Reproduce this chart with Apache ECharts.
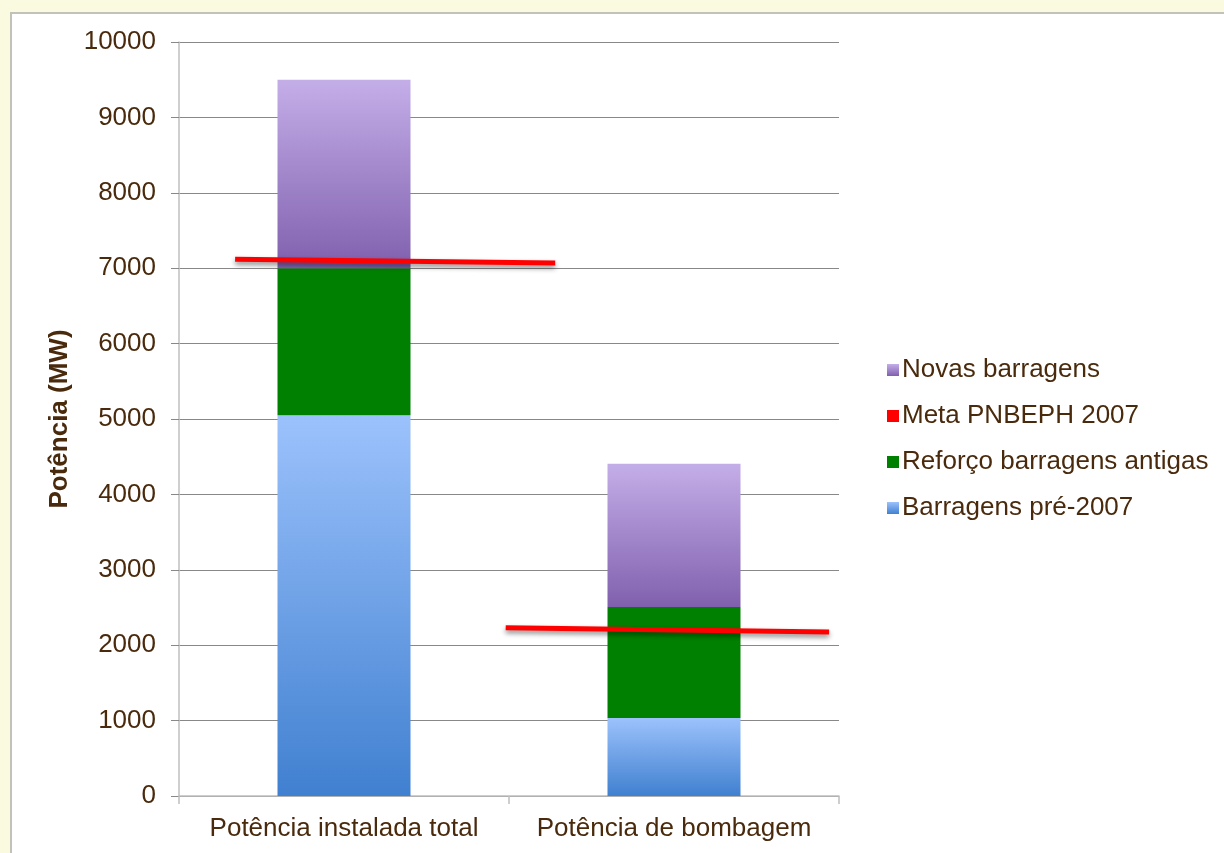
<!DOCTYPE html>
<html>
<head>
<meta charset="utf-8">
<script src="https://cdn.jsdelivr.net/npm/echarts@6/dist/echarts.min.js"></script>
<style>
html,body{margin:0;padding:0;background:#fafae0;}
#c{width:1224px;height:853px;}
</style>
</head>
<body>
<div id="c"></div>
<script>
const categories = ['Potência instalada total', 'Potência de bombagem'];
const preValues = [5050, 1035];
const reforcoValues = [1950, 1470];
const novasValues = [2500, 1900];
const metaStart = [7120, 2230];
const metaEnd = [7070, 2175];
const metaXStart = [-0.33, 0.49];
const metaXEnd = [0.64, 1.47];
const yTicks = [0, 1000, 2000, 3000, 4000, 5000, 6000, 7000, 8000, 9000, 10000];

const txt = '#4a2a0c';
const font = 'Liberation Sans, Arial, sans-serif';
const fs = 26;
const chart = echarts.init(document.getElementById('c'));

const grad = (top, bottom) => new echarts.graphic.LinearGradient(0, 0, 0, 1, [
  {offset: 0, color: top}, {offset: 1, color: bottom}
]);

const metaSeries = metaStart.map((v, i) => ({
  name: 'Meta PNBEPH 2007',
  type: 'line',
  xAxisIndex: 1,
  yAxisIndex: 0,
  symbol: 'none',
  z: 10,
  lineStyle: {color: '#ff0000', width: 5, shadowColor: 'rgba(0,0,0,0.45)', shadowBlur: 5, shadowOffsetY: 3},
  itemStyle: {color: '#ff0000'},
  data: [[metaXStart[i], v], [metaXEnd[i], metaEnd[i]]]
}));

chart.setOption({
  backgroundColor: '#fafae0',
  animation: false,
  graphic: [{
    type: 'rect', left: 10, top: 12, z: -10,
    shape: {x: 0, y: 0, width: 1240, height: 870},
    style: {fill: '#ffffff', stroke: '#c2c2b8', lineWidth: 2}
  }],
  grid: {left: 179, right: 385, top: 42, bottom: 57},
  legend: {
    orient: 'vertical', left: 882, top: 352, itemGap: 20,
    itemWidth: 12, itemHeight: 12, icon: 'rect',
    textStyle: {color: txt, fontSize: fs, lineHeight: 26, fontFamily: font, padding: [0, 0, 0, -2]},
    data: [
      {name: 'Novas barragens', itemStyle: {color: grad('#c4aee8', '#8060ae')}},
      {name: 'Meta PNBEPH 2007', itemStyle: {color: '#ff0000'}},
      {name: 'Reforço barragens antigas', itemStyle: {color: '#008000'}},
      {name: 'Barragens pré-2007', itemStyle: {color: grad('#9cc2fc', '#4080d0')}}
    ]
  },
  xAxis: [{
    type: 'category', data: categories, boundaryGap: true,
    axisLine: {onZero: false, lineStyle: {color: '#bfbfbf', width: 1.5}},
    axisTick: {show: true, length: 8, lineStyle: {color: '#bfbfbf', width: 1.5}},
    axisLabel: {color: txt, fontSize: fs, fontFamily: font, margin: 20, interval: 0}
  }, {
    type: 'value', min: -0.5, max: 1.5, show: false
  }],
  yAxis: [{
    type: 'value', min: 0, max: 10000, interval: 1000,
    name: 'Potência (MW)', nameLocation: 'middle', nameGap: 103,
    nameTextStyle: {color: txt, fontSize: fs, fontWeight: 'bold', fontFamily: font},
    axisLine: {show: true, onZero: false, lineStyle: {color: '#bfbfbf', width: 1.5}},
    axisTick: {show: true, length: 8, lineStyle: {color: '#888888'}},
    splitLine: {lineStyle: {color: '#888888', width: 1}},
    axisLabel: {color: txt, fontSize: fs, fontFamily: font, margin: 23,
      formatter: v => yTicks.includes(v) ? String(v) : ''}
  }],
  series: [{
    name: 'Barragens pré-2007', type: 'bar', stack: 'a', barWidth: 133,
    itemStyle: {color: grad('#9cc2fc', '#4080d0')},
    data: preValues
  }, {
    name: 'Reforço barragens antigas', type: 'bar', stack: 'a', barWidth: 133,
    itemStyle: {color: '#008000'},
    data: reforcoValues
  }, {
    name: 'Novas barragens', type: 'bar', stack: 'a', barWidth: 133,
    itemStyle: {color: grad('#c4aee8', '#8060ae')},
    data: novasValues
  }].concat(metaSeries)
});
</script>
</body>
</html>
